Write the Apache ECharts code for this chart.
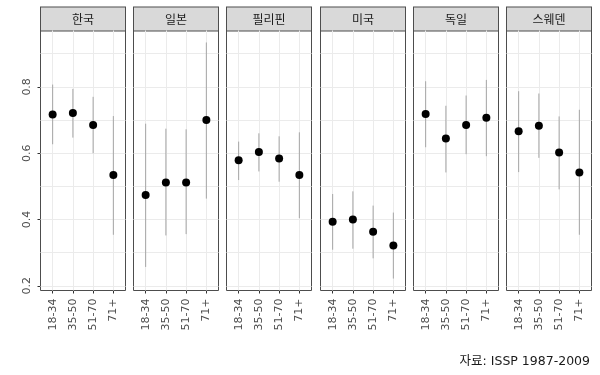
<!DOCTYPE html>
<html><head><meta charset="utf-8">
<script src="https://cdn.jsdelivr.net/npm/echarts@6/dist/echarts.min.js"></script>
<style>html,body{margin:0;padding:0;background:#fff}#c{width:600px;height:375px}</style>
</head><body><div id="c"></div>
<script>
const countries = ['한국', '일본', '필리핀', '미국', '독일', '스웨덴'];
const ageGroups = ['18-34', '35-50', '51-70', '71+'];
const yTickValues = [0.2, 0.4, 0.6, 0.8];
const yGridValues = [0.2, 0.3, 0.4, 0.5, 0.6, 0.7, 0.8, 0.9];

const koreaMean = [0.717, 0.721, 0.685, 0.534];
const koreaLow = [0.627, 0.647, 0.600, 0.354];
const koreaHigh = [0.807, 0.794, 0.770, 0.712];
const japanMean = [0.474, 0.512, 0.512, 0.700];
const japanLow = [0.257, 0.352, 0.356, 0.463];
const japanHigh = [0.689, 0.674, 0.672, 0.934];
const philippinesMean = [0.579, 0.604, 0.584, 0.534];
const philippinesLow = [0.519, 0.545, 0.514, 0.404];
const philippinesHigh = [0.635, 0.660, 0.651, 0.663];
const usaMean = [0.393, 0.400, 0.363, 0.322];
const usaLow = [0.309, 0.312, 0.283, 0.222];
const usaHigh = [0.477, 0.485, 0.442, 0.421];
const germanyMean = [0.718, 0.644, 0.685, 0.707];
const germanyLow = [0.618, 0.542, 0.597, 0.591];
const germanyHigh = [0.817, 0.743, 0.774, 0.821];
const swedenMean = [0.666, 0.683, 0.602, 0.542];
const swedenLow = [0.543, 0.586, 0.491, 0.354];
const swedenHigh = [0.787, 0.780, 0.711, 0.731];

const means = [koreaMean, japanMean, philippinesMean, usaMean, germanyMean, swedenMean];
const lows = [koreaLow, japanLow, philippinesLow, usaLow, germanyLow, swedenLow];
const highs = [koreaHigh, japanHigh, philippinesHigh, usaHigh, germanyHigh, swedenHigh];

const FONT = "'DejaVu Sans', 'Noto Sans CJK KR', sans-serif";
const KFONT = "'Noto Sans CJK KR', sans-serif";
const Y_MIN = 0.186, Y_MAX = 0.970;
const xPositions = ageGroups.map((_, i) => i + 1);

const chart = echarts.init(document.getElementById('c'), null, {renderer: 'canvas'});
const grid = [], xAxis = [], yAxis = [], series = [];

countries.forEach((name, i) => {
  grid.push({
    left: Math.round(41 + 93.2 * i) - 0.5, top: 30.5, width: 85, height: 260,
    show: true, backgroundColor: '#fff', borderColor: '#4d4d4d', borderWidth: 1,
    containLabel: false
  });
  xAxis.push({
    type: 'value', gridIndex: i, min: 0.4, max: 4.6, position: 'bottom',
    axisLine: {show: false, onZero: false},
    splitLine: {show: false},
    axisTick: {show: true, length: 3, customValues: xPositions, lineStyle: {color: '#333', width: 1}},
    axisLabel: {
      show: true, rotate: 90, margin: 8, fontSize: 11, color: '#4d4d4d', fontFamily: FONT,
      customValues: xPositions,
      formatter: v => ageGroups[Math.round(v) - 1] || ''
    }
  });
  xAxis.push({
    type: 'value', gridIndex: i, min: 0.4, max: 4.6, position: 'top',
    axisLine: {show: false, onZero: false}, axisTick: {show: false},
    axisLabel: {show: false}, splitLine: {show: false},
    name: '{s|' + name + '}', nameLocation: 'middle', nameGap: 0,
    nameTextStyle: {
      verticalAlign: 'bottom',
      rich: {
        s: {
          fontFamily: KFONT, fontSize: 12, color: '#1a1a1a',
          backgroundColor: '#d9d9d9', borderColor: '#4d4d4d', borderWidth: 1,
          width: 84, height: 23, lineHeight: 23, align: 'center', verticalAlign: 'middle'
        }
      }
    }
  });
  yAxis.push({
    type: 'value', gridIndex: i, min: Y_MIN, max: Y_MAX,
    axisLine: {show: false, onZero: false},
    splitLine: {show: false},
    axisTick: {show: i === 0, length: 3, customValues: yTickValues, lineStyle: {color: '#333', width: 1}},
    axisLabel: {
      show: i === 0, rotate: 90, margin: 8, fontSize: 11, color: '#4d4d4d', fontFamily: FONT,
      customValues: yTickValues, formatter: v => v.toFixed(1)
    }
  });
  series.push({
    type: 'line', xAxisIndex: 2 * i, yAxisIndex: i, data: [], z: 1, silent: true,
    markLine: {
      silent: true, symbol: 'none', label: {show: false}, animation: false, z: 1,
      lineStyle: {color: '#ebebeb', width: 1, type: 'solid'},
      data: yGridValues.map(v => ({yAxis: v})).concat(xPositions.map(v => ({xAxis: v})))
    }
  });
  series.push({
    type: 'custom', xAxisIndex: 2 * i, yAxisIndex: i, z: 3, silent: true, animation: false,
    data: ageGroups.map((g, k) => [xPositions[k], lows[i][k], highs[i][k]]),
    renderItem: (params, api) => {
      const p1 = api.coord([api.value(0), api.value(1)]);
      const p2 = api.coord([api.value(0), api.value(2)]);
      return {type: 'line', shape: {x1: p1[0], y1: p1[1], x2: p2[0], y2: p2[1]},
              style: {stroke: '#a6a6a6', lineWidth: 1}};
    }
  });
  series.push({
    type: 'scatter', xAxisIndex: 2 * i, yAxisIndex: i, z: 4, animation: false,
    symbol: 'circle', symbolSize: 8, itemStyle: {color: '#000', opacity: 1},
    data: ageGroups.map((g, k) => [xPositions[k], means[i][k]])
  });
});

chart.setOption({
  backgroundColor: '#fff',
  animation: false,
  title: {
    text: '자료: ISSP 1987-2009', right: 5, top: 350,
    textStyle: {fontFamily: FONT, fontSize: 12.5, fontWeight: 'normal', color: '#1a1a1a'}
  },
  grid, xAxis, yAxis, series
});
</script></body></html>
